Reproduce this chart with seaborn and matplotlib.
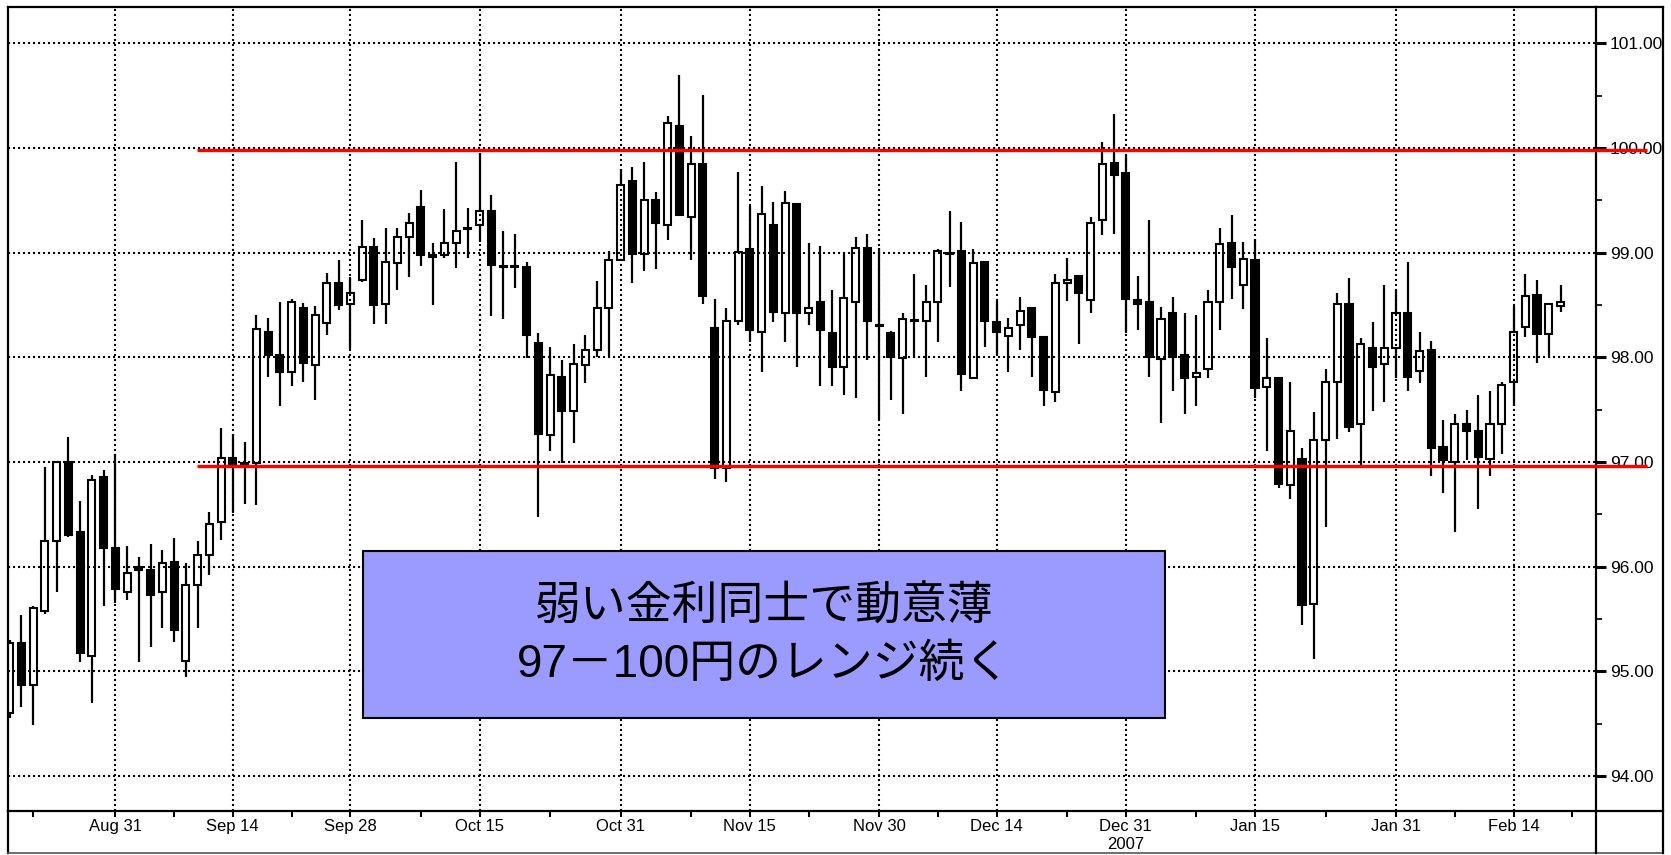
import numpy as np
import pandas as pd
import matplotlib
matplotlib.use("Agg")
import matplotlib.pyplot as plt
import seaborn as sns
from matplotlib.lines import Line2D
from matplotlib.patches import Rectangle

# ---------------- data ----------------
opens = [94.60, 95.27, 94.87, 95.58, 96.24, 97.00, 96.33, 95.15, 96.86, 96.18,
         95.76, 96.00, 95.97, 95.76, 96.04, 95.10, 95.82, 96.11, 96.43, 97.04,
         96.99, 96.99, 98.24, 98.02, 97.86, 98.47, 97.93, 98.33, 98.71, 98.51,
         98.74, 99.05, 98.51, 98.90, 99.15, 99.44, 98.98, 98.98, 99.09, 99.24,
         99.26, 99.40, 98.87, 98.86, 98.86, 98.14, 97.26, 97.81, 97.49, 97.93,
         98.07, 98.47, 98.93, 99.68, 98.99, 99.50, 99.26, 100.21, 99.34, 99.85,
         98.28, 96.94, 98.35, 99.03, 98.24, 99.26, 98.42, 99.46, 98.42, 98.53,
         98.23, 97.91, 98.53, 99.04, 98.31, 98.23, 97.99, 98.36, 98.35, 98.53,
         99.00, 99.02, 97.80, 98.91, 98.34, 98.20, 98.31, 98.47, 98.19, 97.67,
         98.71, 98.78, 98.55, 99.31, 99.86, 99.76, 98.55, 98.53, 97.98, 98.42,
         98.02, 97.81, 97.89, 98.53, 99.09, 98.69, 98.93, 97.72, 97.80, 96.78,
         97.03, 95.64, 97.21, 97.76, 98.51, 97.36, 98.09, 97.94, 98.09, 98.42,
         97.87, 98.07, 97.14, 97.00, 97.36, 97.30, 97.03, 97.36, 97.76, 98.29,
         98.60, 98.22, 98.49]
highs = [95.30, 95.54, 95.62, 96.95, 97.01, 97.24, 96.63, 96.88, 96.92, 97.08,
         96.20, 96.09, 96.22, 96.16, 96.27, 96.03, 96.24, 96.52, 97.32, 97.27,
         97.19, 98.40, 98.38, 98.53, 98.56, 98.52, 98.49, 98.81, 98.93, 98.77,
         99.31, 99.14, 99.24, 99.24, 99.38, 99.60, 99.09, 99.42, 99.87, 99.43,
         99.95, 99.55, 99.21, 99.18, 98.91, 98.23, 98.10, 97.97, 98.13, 98.21,
         98.73, 99.02, 99.80, 99.82, 99.87, 99.58, 100.31, 100.70, 100.11, 100.51,
         98.56, 98.47, 99.77, 99.45, 99.64, 99.48, 99.59, 99.46, 99.09, 99.06,
         98.64, 98.99, 99.15, 99.18, 99.04, 98.25, 98.42, 98.80, 98.69, 99.03,
         99.40, 99.29, 99.03, 98.92, 98.54, 98.38, 98.58, 98.48, 98.20, 98.80,
         98.95, 98.79, 99.34, 100.06, 100.32, 99.93, 98.78, 99.31, 98.48, 98.58,
         98.42, 98.40, 98.64, 99.24, 99.36, 99.10, 99.13, 98.18, 97.81, 97.76,
         97.13, 97.48, 97.89, 98.61, 98.76, 98.18, 98.34, 98.69, 98.64, 98.91,
         98.24, 98.16, 97.40, 97.46, 97.50, 97.64, 97.68, 97.76, 98.49, 98.80,
         98.74, 98.51, 98.69]
lows = [94.55, 94.66, 94.49, 95.55, 95.76, 96.28, 95.09, 94.70, 95.62, 95.65,
        95.68, 95.09, 95.23, 95.41, 95.28, 94.95, 95.41, 95.92, 96.25, 96.51,
        96.60, 96.59, 97.81, 97.53, 97.73, 97.76, 97.59, 98.21, 98.45, 98.08,
        98.72, 98.32, 98.32, 98.64, 98.77, 98.87, 98.50, 98.95, 98.85, 98.95,
        99.10, 98.39, 98.37, 98.66, 97.99, 96.47, 97.10, 96.99, 97.18, 97.75,
        98.00, 98.01, 98.92, 98.71, 98.82, 98.84, 99.12, 99.36, 98.93, 98.51,
        96.84, 96.81, 98.31, 98.15, 97.86, 98.34, 98.15, 97.91, 98.31, 97.73,
        97.73, 97.64, 97.61, 97.97, 97.40, 97.59, 97.46, 97.99, 97.81, 98.15,
        98.67, 97.68, 97.80, 98.10, 98.02, 97.86, 98.07, 97.81, 97.53, 97.57,
        98.54, 98.13, 98.42, 99.17, 99.18, 98.23, 98.26, 97.81, 97.37, 97.68,
        97.46, 97.53, 97.80, 98.26, 98.56, 98.46, 97.61, 97.10, 96.75, 96.65,
        95.44, 95.12, 96.38, 97.22, 97.29, 96.94, 97.49, 97.57, 97.80, 97.68,
        97.75, 96.87, 96.70, 96.33, 97.02, 96.55, 96.87, 97.08, 97.53, 98.19,
        97.95, 98.00, 98.43]
closes = [95.27, 94.87, 95.60, 96.24, 97.00, 96.30, 95.17, 96.83, 96.18, 95.79,
          95.94, 95.97, 95.73, 96.03, 95.39, 95.82, 96.11, 96.41, 97.04, 96.97,
          96.98, 98.27, 98.02, 97.86, 98.53, 97.95, 98.40, 98.71, 98.50, 98.61,
          99.05, 98.50, 98.91, 99.15, 99.28, 98.98, 98.96, 99.09, 99.21, 99.23,
          99.40, 98.88, 98.86, 98.86, 98.21, 97.27, 97.83, 97.49, 97.94, 98.07,
          98.47, 98.93, 99.65, 98.99, 99.50, 99.28, 100.24, 99.36, 99.85, 98.59,
          96.94, 98.35, 99.01, 98.26, 99.37, 98.43, 99.47, 98.42, 98.47, 98.26,
          97.91, 98.57, 99.04, 98.35, 98.30, 98.00, 98.37, 98.35, 98.53, 99.02,
          98.99, 97.84, 98.90, 98.35, 98.24, 98.28, 98.44, 98.19, 97.69, 98.71,
          98.74, 98.61, 99.28, 99.85, 99.74, 98.56, 98.51, 98.00, 98.37, 98.00,
          97.80, 97.85, 98.53, 99.08, 98.86, 98.94, 97.71, 97.80, 96.79, 97.30,
          95.63, 97.21, 97.76, 98.51, 97.33, 98.13, 97.91, 98.09, 98.42, 97.81,
          98.06, 97.13, 97.02, 97.36, 97.30, 97.05, 97.36, 97.74, 98.24, 98.59,
          98.22, 98.51, 98.53]

date_tick_pos = [9, 19, 29, 40, 52, 63, 74, 84, 95, 106, 118, 128]
date_tick_labels = ["Aug 31", "Sep 14", "Sep 28", "Oct 15", "Oct 31", "Nov 15",
                    "Nov 30", "Dec 14", "Dec 31\n2007", "Jan 15", "Jan 31", "Feb 14"]
minor_tick_pos = [2, 14, 24, 35, 46, 58, 68, 79, 90, 101, 112, 123, 133]
price_ticks = [94, 95, 96, 97, 98, 99, 100, 101]
price_minor = [94.5, 95.5, 96.5, 97.5, 98.5, 99.5, 100.5]

range_levels = [99.98, 96.96]      # red range lines
range_start, range_end = 15.95, 139.4

note_lines = ["弱い金利同士で動意薄", "97－100円のレンジ続く"]

df = pd.DataFrame({"open": opens, "high": highs, "low": lows, "close": closes})
df["idx"] = np.arange(len(df))
df["up"] = df["close"] >= df["open"]

# ---------------- style ----------------
sns.set_theme(style="white")
plt.rcParams["font.family"] = ["Liberation Sans", "Noto Sans CJK JP", "DejaVu Sans"]

W, H = 1671, 855
fig = plt.figure(figsize=(W / 100, H / 100), dpi=100)
fig.patch.set_facecolor("white")
ax = fig.add_axes([8 / W, 44 / H, 1588 / W, 804 / H])
ax.set_facecolor("white")

# wicks
ax.vlines(df["idx"], df["low"], df["high"], colors="black", lw=1.6, zorder=1.2)
# bodies
up = df[df["up"]]
dn = df[~df["up"]]
ax.bar(up["idx"], (up["close"] - up["open"]).clip(lower=0.008), bottom=up["open"],
       width=0.6, color="white", edgecolor="black", lw=1.5, zorder=1.5)
ax.bar(dn["idx"], (dn["open"] - dn["close"]).clip(lower=0.008), bottom=dn["close"],
       width=0.6, color="black", edgecolor="black", lw=1.5, zorder=1.5)

ax.set_xlim(-0.132, 135.02)
ax.set_ylim(93.665, 101.347)

# grid
ax.set_axisbelow(False)
ax.grid(True, which="major", color="black", linestyle=(0, (1, 1.4)), lw=1.5)

# red range lines
for lv in range_levels:
    ax.plot([range_start, range_end], [lv, lv], color="#ff0000", lw=2.4,
            solid_capstyle="butt", clip_on=False, zorder=4)

# ticks
ax.set_xticks(date_tick_pos)
ax.set_xticklabels(date_tick_labels)
ax.set_xticks(minor_tick_pos, minor=True)
ax.tick_params(axis="x", which="both", direction="out", length=4.5, width=1.5,
               pad=1.5, labelsize=12, bottom=True, top=False, colors="black")
ax.yaxis.tick_right()
ax.set_yticks(price_ticks)
ax.set_yticklabels([f"{v:.2f}" for v in price_ticks])
ax.set_yticks(price_minor, minor=True)
ax.tick_params(axis="y", which="major", direction="out", length=7, width=2.2,
               pad=3, labelsize=12.5, right=True, left=False, colors="black")
ax.tick_params(axis="y", which="minor", direction="out", length=4, width=1.2,
               right=True, left=False, colors="black")
for s in ax.spines.values():
    s.set_color("black")
    s.set_linewidth(1.6)

# annotation box
ax.add_patch(Rectangle((0.2234, 0.1160), 0.5052, 0.2074, transform=ax.transAxes,
                       facecolor="#9a9aff", edgecolor="black", lw=1.5, zorder=5))
ax.text(0.4761, 0.2525, note_lines[0], transform=ax.transAxes, ha="center",
        va="center", fontsize=33, color="black", zorder=6,
        family=["Liberation Sans", "Noto Sans CJK JP"])
ax.text(0.4761, 0.1816, note_lines[1], transform=ax.transAxes, ha="center",
        va="center", fontsize=33, color="black", zorder=6,
        family=["Liberation Sans", "Noto Sans CJK JP"])

# outer frame lines (figure pixel coordinates)
def fline(x0, y0, x1, y1, lw=1.6, color="black"):
    fig.add_artist(Line2D([x0 / W, x1 / W], [1 - y0 / H, 1 - y1 / H],
                          color=color, lw=lw, solid_capstyle="projecting"))

fline(8, 811, 8, 853)
fline(8, 853, 1663, 853, lw=1.2, color="#555555")
fline(1663, 7, 1663, 853)
fline(1596, 7, 1663, 7)
fline(1596, 811, 1663, 811)
fline(1596, 811, 1596, 853)

fig.savefig("out.png", dpi=100, facecolor="white")
